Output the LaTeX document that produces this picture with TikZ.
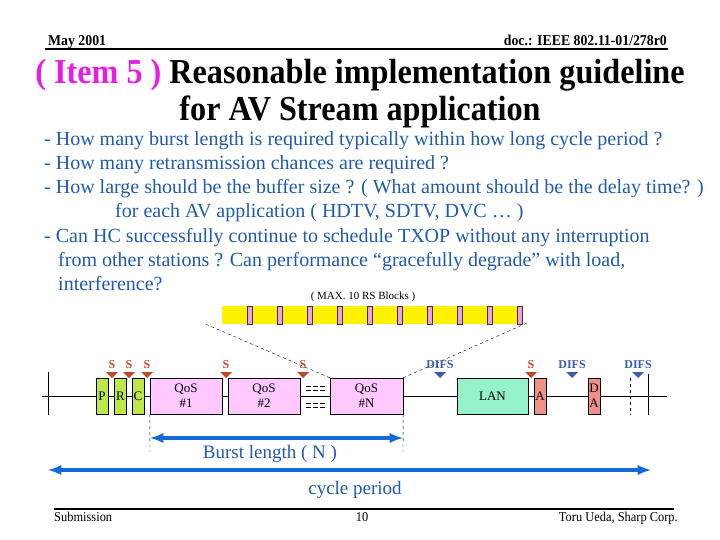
\documentclass[tikz,border=0pt]{standalone}
\usepackage{fontspec}
\setmainfont{Liberation Serif}
\newfontfamily\narrowfont[FakeStretch=0.92]{Liberation Serif}
\usetikzlibrary{arrows}

\definecolor{itemmag}{RGB}{228,30,228}
\definecolor{textblue}{RGB}{30,90,175}
\definecolor{arrowblue}{RGB}{20,105,215}
\definecolor{prcgreen}{RGB}{190,232,70}
\definecolor{qospink}{RGB}{255,200,255}
\definecolor{langreen}{RGB}{150,242,200}
\definecolor{acksalmon}{RGB}{240,145,135}
\definecolor{sred}{RGB}{192,72,42}
\definecolor{difsblue}{RGB}{60,92,175}
\definecolor{blkpink}{RGB}{240,160,240}

\begin{document}
\begin{tikzpicture}[x=1pt,y=-1pt,
    box/.style={draw, inner sep=0pt, minimum height=36pt, align=center,
                font=\fontsize{13}{15}\selectfont},
    prc/.style={box, fill=prcgreen, minimum width=12pt},
    qos/.style={box, fill=qospink, minimum width=72pt},
    ack/.style={box, fill=acksalmon, minimum width=12pt},
    bullet/.style={anchor=base west, inner sep=0pt, text=textblue,
                   font=\fontsize{20}{24}\selectfont},
    slabel/.style={inner sep=0pt, text=sred, font=\bfseries\fontsize{12}{14}\selectfont},
    dlabel/.style={inner sep=0pt, text=difsblue, font=\bfseries\fontsize{12}{14}\selectfont},
    small/.style={inner sep=0pt, font=\narrowfont\fontsize{13.5}{16}\selectfont},
    head/.style={inner sep=0pt, font=\narrowfont\bfseries\fontsize{15}{17}\selectfont},
    span/.style={arrowblue, line width=3.5pt, latex-latex}]
    \useasboundingbox (0,0) rectangle (720,540);

    % header
    \node[head, anchor=base west] (date) at (48,46) {May 2001};
    \node[head, anchor=base east] (doc) at (667,46) {doc.: IEEE 802.11-01/278r0};
    \coordinate (hl) at (45,49);
    \coordinate (hr) at (668,49);
    \path[draw, line width=1.5pt] (hl) -- (hr);

    % title
    \node[inner sep=0pt, anchor=base, font=\narrowfont\bfseries\fontsize{35}{38}\selectfont] (title1) at (360,84)
        {\textcolor{itemmag}{( Item 5 )} Reasonable implementation guideline};
    \node[inner sep=0pt, anchor=base, font=\narrowfont\bfseries\fontsize{35}{38}\selectfont] (title2) at (360,121)
        {for AV Stream application};

    % questions
    \node[bullet] (q1) at (44,146) {- How many burst length is required typically within how long cycle period ?};
    \node[bullet] (q2) at (44,170) {- How many retransmission chances are required ?};
    \node[bullet] (q3) at (44,194) {- How large should be the buffer size ? ( What amount should be the delay time? )};
    \node[bullet] (q3b) at (115,218) {for each AV application ( HDTV, SDTV, DVC … )};
    \node[bullet] (q4) at (44,242) {- Can HC successfully continue to schedule TXOP without any interruption};
    \node[bullet] (q4b) at (58,266) {from other stations ? Can performance “gracefully degrade” with load,};
    \node[bullet] (q4c) at (58,290) {interference?};

    % RS blocks
    \node[inner sep=0pt, font=\fontsize{11}{13}\selectfont] (max) at (363,297) {( MAX. 10 RS Blocks )};
    \fill[yellow] (222,306) rectangle (523,324);
    \foreach \k in {0,...,9}
        \filldraw[fill=blkpink, draw=black!80, line width=0.8pt] (247+30*\k,306) rectangle +(5.5,18);

    % time line
    \coordinate (tl) at (42,396);
    \coordinate (tr) at (667,396);
    \path[draw] (tl) -- (tr);
    \coordinate (t0a) at (48,372);
    \coordinate (t0b) at (48,415);
    \path[draw] (t0a) -- (t0b);
    \coordinate (t1a) at (630,378);
    \coordinate (t1b) at (630,415);
    \path[draw, dashed] (t1a) -- (t1b);
    \coordinate (t2a) at (648,374);
    \coordinate (t2b) at (648,415);
    \path[draw] (t2a) -- (t2b);

    % frames
    \node[prc] (P) at (102,396) {P};
    \node[prc] (R) at (120.5,396) {R};
    \node[prc] (C) at (138,396) {C};
    \node[qos] (Q1) at (186,396) {QoS\\\#1};
    \node[qos] (Q2) at (264,396) {QoS\\\#2};
    \node[qos, minimum width=73pt] (QN) at (366.5,396) {QoS\\\#N};
    \node[box, fill=langreen, minimum width=71pt] (LAN) at (492.5,396) {LAN};
    \node[ack] (A) at (540,396) {A};
    \node[ack] (DA) at (594,396) {D\\A};

    % omitted frames
    \foreach \yy in {386,390,403,407}
        \path[draw, dash pattern=on 5pt off 2pt] (306,\yy) -- (325,\yy);

    % zoom lines
    \coordinate (zl) at (203,323);
    \coordinate (zr) at (527,323);
    \path[draw, dashed] (QN.north west) -- (zl);
    \path[draw, dashed] (QN.north east) -- (zr);

    % SIFS / DIFS marks
    \foreach \xx [count=\i] in {112,129,147,226,303,531} {
        \fill[sred] (\xx-6,372) -- (\xx+6,372) -- (\xx,378) -- cycle;
        \node[slabel] (s\i) at (\xx,365) {S};
    }
    \foreach \xx [count=\i] in {440,572,638} {
        \fill[difsblue] (\xx-6,372) -- (\xx+6,372) -- (\xx,378) -- cycle;
        \node[dlabel] (d\i) at (\xx,365) {DIFS};
    }

    % burst length
    \coordinate (b0) at (150,452);
    \coordinate (b1) at (403,452);
    \path[draw, dashed] (Q1.south west) -- (b0);
    \path[draw, dashed] (QN.south east) -- (b1);
    \coordinate (ba) at (150,438);
    \coordinate (bb) at (403,438);
    \path[draw, span] (ba) -- (bb);
    \node[text=textblue, inner sep=0pt, font=\fontsize{19}{22}\selectfont] (burst) at (270,454) {Burst length ( N )};

    % cycle period
    \coordinate (ca) at (48,470);
    \coordinate (cb) at (651,470);
    \path[draw, span] (ca) -- (cb);
    \node[text=textblue, inner sep=0pt, font=\fontsize{19}{22}\selectfont] (cycle) at (355,490) {cycle period};

    % footer
    \coordinate (fl) at (54,509);
    \coordinate (fr) at (674,509);
    \path[draw, line width=1.5pt] (fl) -- (fr);
    \node[small, anchor=base west] (sub) at (54,521) {Submission};
    \node[small, anchor=base] (page) at (362,521) {10};
    \node[small, anchor=base east] (auth) at (678,521) {Toru Ueda, Sharp Corp.};
\end{tikzpicture}
\end{document}
